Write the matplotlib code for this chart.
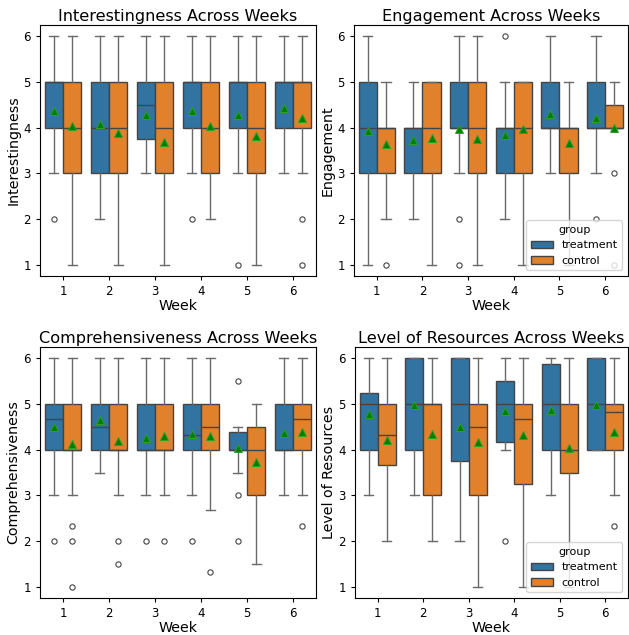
import matplotlib
matplotlib.use("Agg")
import matplotlib.pyplot as plt
from matplotlib.patches import Patch

weeks = ["1", "2", "3", "4", "5", "6"]
groups = ["treatment", "control"]
group_colors = ["#3274a1", "#e1812c"]

metrics = ["Interestingness", "Engagement", "Comprehensiveness", "Level of Resources"]

# per metric, per group: six weeks of (whislo, q1, med, q3, whishi), mean, fliers
interest_t = [(3, 4, 5, 5, 6), (2, 3, 4, 5, 6), (3, 3.75, 4.5, 5, 6),
              (3, 4, 5, 5, 6), (3, 4, 5, 5, 6), (3, 4, 5, 5, 6)]
interest_t_mean = [4.36, 4.07, 4.28, 4.36, 4.27, 4.44]
interest_t_fliers = [[2], [], [], [2], [1], []]
interest_c = [(1, 3, 4, 5, 6), (1, 3, 4, 5, 6), (1, 3, 4, 5, 6),
              (2, 3, 4, 5, 6), (1, 3, 4, 5, 6), (3, 4, 5, 5, 6)]
interest_c_mean = [4.03, 3.89, 3.68, 4.03, 3.82, 4.22]
interest_c_fliers = [[], [], [], [], [], [2, 1]]

engage_t = [(1, 3, 4, 5, 6), (2, 3, 4, 4, 5), (3, 4, 4, 5, 6),
            (2, 3, 4, 4, 5), (3, 4, 4, 5, 6), (3, 4, 4, 5, 6)]
engage_t_mean = [3.92, 3.74, 3.98, 3.83, 4.30, 4.22]
engage_t_fliers = [[], [], [2, 1], [6], [], [2]]
engage_c = [(2, 3, 4, 4, 5), (1, 3, 4, 5, 5), (1, 3, 4, 5, 6),
            (1, 3, 4, 5, 5), (1, 3, 4, 4, 5), (4, 4, 4, 4.5, 5)]
engage_c_mean = [3.64, 3.78, 3.76, 3.98, 3.66, 3.99]
engage_c_fliers = [[1], [], [], [], [], [3, 1]]

compr_t = [(3, 4, 4.67, 5, 6), (3.5, 4, 4.5, 5, 6), (3, 4, 4, 5, 6),
           (3, 4, 4.33, 5, 6), (3.5, 4, 4, 4.38, 4.5), (3, 4, 4, 5, 6)]
compr_t_mean = [4.50, 4.65, 4.26, 4.35, 4.03, 4.36]
compr_t_fliers = [[2], [], [2], [2], [5.5, 3, 2], []]
compr_c = [(3, 4, 4, 5, 6), (3, 4, 4, 5, 6), (3, 4, 4, 5, 6),
           (2.67, 4, 4.5, 5, 6), (1.5, 3, 4, 4.5, 5), (3, 4, 4.67, 5, 6)]
compr_c_mean = [4.12, 4.19, 4.31, 4.31, 3.72, 4.39]
compr_c_fliers = [[2.33, 2, 1], [2, 1.5], [2], [1.33], [], [2.33]]

resour_t = [(3, 4, 5, 5.25, 6), (3, 4, 5, 6, 6), (2, 3.75, 5, 6, 6),
            (4, 4.17, 5, 5.5, 6), (3, 4, 5, 5.88, 6), (4, 4, 5, 6, 6)]
resour_t_mean = [4.78, 4.99, 4.50, 4.84, 4.88, 4.97]
resour_t_fliers = [[], [], [], [2], [], []]
resour_c = [(2, 3.67, 4.33, 5, 6), (2, 3, 5, 5, 6), (1, 3, 4.5, 5, 6),
            (1, 3.25, 4.67, 5, 6), (1, 3.5, 4, 5, 6), (3, 4, 4.83, 5, 6)]
resour_c_mean = [4.21, 4.34, 4.16, 4.32, 4.04, 4.39]
resour_c_fliers = [[], [], [], [], [], [2.33]]

data = {
    "Interestingness": [(interest_t, interest_t_mean, interest_t_fliers),
                        (interest_c, interest_c_mean, interest_c_fliers)],
    "Engagement": [(engage_t, engage_t_mean, engage_t_fliers),
                   (engage_c, engage_c_mean, engage_c_fliers)],
    "Comprehensiveness": [(compr_t, compr_t_mean, compr_t_fliers),
                          (compr_c, compr_c_mean, compr_c_fliers)],
    "Level of Resources": [(resour_t, resour_t_mean, resour_t_fliers),
                           (resour_c, resour_c_mean, resour_c_fliers)],
}

line_col = "#444444"

fig = plt.figure(figsize=(6.29, 6.35), dpi=100)
positions = [
    [0.0636, 0.5654, 0.4388, 0.3952],
    [0.5628, 0.5654, 0.4356, 0.3952],
    [0.0636, 0.0583, 0.4388, 0.3952],
    [0.5644, 0.0583, 0.4340, 0.3952],
]

for k, metric in enumerate(metrics):
    ax = fig.add_axes(positions[k])
    for g, (five, means, fliers) in enumerate(data[metric]):
        stats = []
        for i in range(len(weeks)):
            lo, q1, med, q3, hi = five[i]
            stats.append(dict(whislo=lo, q1=q1, med=med, q3=q3, whishi=hi,
                              mean=means[i], fliers=fliers[i]))
        pos = [i - 0.2 + 0.4 * g for i in range(len(weeks))]
        ax.bxp(stats, positions=pos, widths=0.4, patch_artist=True,
               showmeans=True, manage_ticks=False,
               boxprops=dict(facecolor=group_colors[g], edgecolor=line_col, linewidth=1.0),
               medianprops=dict(color=line_col, linewidth=1.0),
               whiskerprops=dict(color="#6a6a6a", linewidth=1.0),
               capprops=dict(color="#6a6a6a", linewidth=1.0),
               flierprops=dict(marker="o", markersize=3.8, markerfacecolor="none",
                               markeredgecolor=line_col, markeredgewidth=0.8),
               meanprops=dict(marker="^", markersize=6, markerfacecolor="green",
                              markeredgecolor="#2ca02c", markeredgewidth=0.7))
    ax.set_xticks(range(len(weeks)))
    ax.set_xticklabels(weeks)
    ax.set_xlim(-0.5, len(weeks) - 0.5)
    ax.set_ylim(0.75, 6.25)
    ax.set_yticks([1, 2, 3, 4, 5, 6])
    ax.tick_params(labelsize=8.5, length=3)
    ax.set_xlabel("Week", fontsize=10.3, labelpad=1)
    ax.set_ylabel(metric, fontsize=10.3, labelpad=2)
    ax.set_title(f"{metric} Across Weeks", fontsize=11.6, pad=3)
    if k in (1, 3):
        handles = [Patch(facecolor=group_colors[g], edgecolor=line_col, label=groups[g])
                   for g in range(2)]
        ax.legend(handles=handles, title="group", loc="lower right",
                  fontsize=8, title_fontsize=8)

fig.savefig("out.png", dpi=100)
